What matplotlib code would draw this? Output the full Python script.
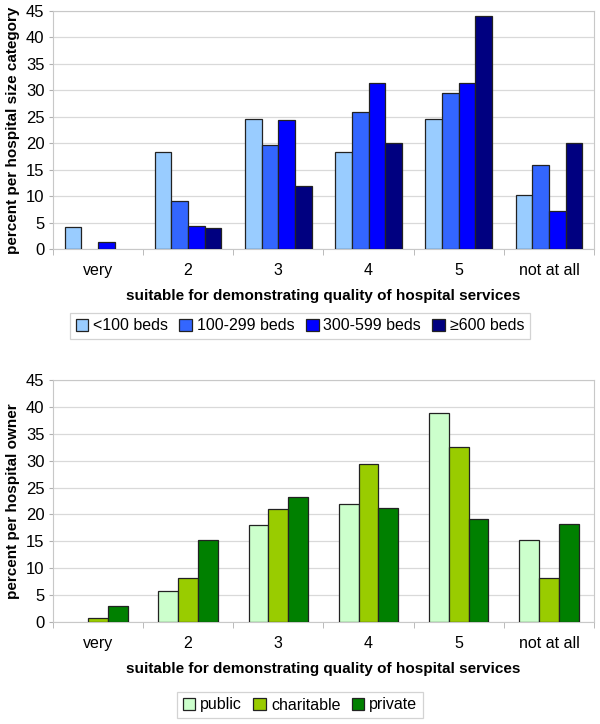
import matplotlib.pyplot as plt
import numpy as np

# categories on the x axis
categories = ['very', '2', '3', '4', '5', 'not at all']

# top chart: percent per hospital size category
size_labels = ['<100 beds', '100-299 beds', '300-599 beds', '\u2265600 beds']
size_lt100 = [4.1, 18.4, 24.5, 18.4, 24.5, 10.2]
size_100_299 = [0, 9.1, 19.7, 25.8, 29.5, 15.9]
size_300_599 = [1.4, 4.3, 24.3, 31.4, 31.4, 7.1]
size_ge600 = [0, 4.0, 12.0, 20.0, 44.0, 20.0]
size_colors = ['#99CCFF', '#3366FF', '#0000FF', '#000080']

# bottom chart: percent per hospital owner
owner_labels = ['public', 'charitable', 'private']
owner_public = [0, 5.8, 18.1, 21.9, 38.9, 15.2]
owner_charitable = [0.8, 8.1, 21.1, 29.3, 32.5, 8.1]
owner_private = [3.0, 15.2, 23.2, 21.2, 19.2, 18.2]
owner_colors = ['#CCFFCC', '#99CC00', '#008000']

xlabel = 'suitable for demonstrating quality of hospital services'

plt.rcParams['font.family'] = ['Liberation Sans', 'DejaVu Sans']

fig = plt.figure(figsize=(6, 7.24), dpi=100)
ax1 = fig.add_axes([0.088, 0.656, 0.902, 0.329])
ax2 = fig.add_axes([0.088, 0.141, 0.902, 0.334])


def draw(ax, series, labels, colors, ylabel, group_w, legend_y):
    x = np.arange(len(categories))
    n = len(series)
    w = group_w / n
    for i, (vals, lab, col) in enumerate(zip(series, labels, colors)):
        # empty bars get no outline, like in the original
        lw = [0.9 if v > 0 else 0 for v in vals]
        ax.bar(x - group_w / 2 + w * (i + 0.5), vals, w, color=col,
               edgecolor='#222222', linewidth=lw, label=lab, zorder=3)
    ax.set_xlim(-0.5, len(categories) - 0.5)
    ax.set_ylim(0, 45)
    ax.set_yticks(range(0, 46, 5))
    ax.set_xticks(x)
    ax.set_xticklabels(categories, fontsize=11.5)
    ax.set_xticks(np.arange(-0.5, len(categories), 1), minor=True)
    ax.tick_params(axis='x', which='major', length=0, pad=10)
    ax.tick_params(axis='x', which='minor', length=4, color='#b0b0b0')
    ax.tick_params(axis='y', length=3, color='#b0b0b0', labelsize=12, pad=3)
    ax.grid(axis='y', color='#d9d9d9', linewidth=0.9, zorder=0)
    for s in ax.spines.values():
        s.set_color('#c8c8c8')
    ax.set_xlabel(xlabel, fontsize=11, fontweight='bold', labelpad=8)
    ax.set_ylabel(ylabel, fontsize=11, fontweight='bold', labelpad=4)
    leg = ax.legend(loc='center', bbox_to_anchor=(0.5, legend_y),
                    ncol=n, fontsize=11.5, frameon=True, fancybox=False,
                    handlelength=0.8, handleheight=0.8, handletextpad=0.3,
                    columnspacing=0.7, borderpad=0.35, bbox_transform=fig.transFigure)
    leg.get_frame().set_edgecolor('#c8c8c8')
    leg.get_frame().set_linewidth(0.9)
    for h in leg.legend_handles:
        h.set_edgecolor('#222222')
        h.set_linewidth(0.9)


draw(ax1, [size_lt100, size_100_299, size_300_599, size_ge600], size_labels,
     size_colors, 'percent per hospital size category', 0.74, 1 - 326 / 724)
draw(ax2, [owner_public, owner_charitable, owner_private], owner_labels,
     owner_colors, 'percent per hospital owner', 0.66, 1 - 705 / 724)

fig.savefig('out.png', dpi=100)
